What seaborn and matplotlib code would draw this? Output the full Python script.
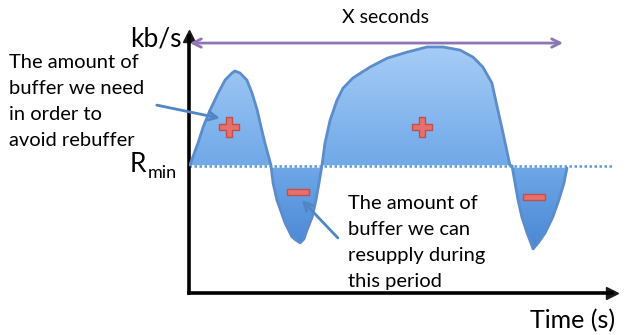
import numpy as np
import matplotlib
matplotlib.use("Agg")
import matplotlib.pyplot as plt
import seaborn as sns
from matplotlib.colors import LinearSegmentedColormap
from matplotlib.patches import Polygon
from matplotlib.path import Path

# ---- data ----
time_s = [0.02, 0.21, 0.33, 0.49, 0.68, 0.84, 1.00, 1.07, 1.19, 1.35, 1.47, 1.59, 1.68, 1.77, 1.91,
          1.96, 2.05, 2.24, 2.40, 2.49, 2.59, 2.68, 2.75, 2.87, 2.96, 3.03, 3.10,
          3.17, 3.29, 3.45, 3.59, 3.82, 4.22, 4.62, 5.08, 5.55, 5.92, 6.32, 6.62, 6.85,
          7.06, 7.20, 7.32, 7.48,
          7.53, 7.60, 7.67, 7.76, 7.88, 7.97, 8.02, 8.14, 8.30, 8.48, 8.62, 8.74, 8.81]
rate_kbps = [49.0, 57.5, 63.6, 70.1, 76.6, 81.6, 84.3, 85.1, 84.3, 81.6, 76.6, 70.1, 63.6, 57.5, 49.0,
             42.1, 35.6, 26.8, 21.5, 20.3, 19.2, 20.7, 24.1, 29.1, 35.6, 42.1, 49.0,
             57.5, 66.3, 73.9, 78.5, 82.4, 86.6, 90.0, 92.3, 94.3, 94.3, 93.1, 90.4, 86.6,
             80.5, 70.1, 61.3, 49.0,
             48.7, 42.1, 35.6, 29.1, 23.0, 19.2, 16.9, 19.2, 23.0, 29.1, 35.6, 42.1, 47.9]
r_min = 48.8
window = [0.02, 8.72]      # "X seconds"
window_level = 95.8
plus_t, plus_r = [0.93, 5.43], [63.6, 63.6]
minus_t, minus_r = [2.54, 8.04], [38.7, 36.8]

sns.set_theme(style="white")
plt.rcParams['font.family'] = ['Lato', 'DejaVu Sans']

W, H = 626, 335
fig = plt.figure(figsize=(W / 100, H / 100), dpi=100)
ax = fig.add_axes([189 / W, 42 / H, 423 / W, 257 / H])
ax.set_xticks([])
ax.set_yticks([])
sns.despine(ax=ax)
for s in ['left', 'bottom']:
    ax.spines[s].set_linewidth(2.6)
    ax.spines[s].set_color('black')
ax.plot(1, 0, '>k', ms=9, transform=ax.transAxes, clip_on=False)
ax.plot(0, 1, '^k', ms=9, transform=ax.transAxes, clip_on=False)

# gradient fill between curve and Rmin
cmap = LinearSegmentedColormap.from_list(
    'g', [(0, '#3f7fcf'), (0.17, '#4a88d4'), (0.49, '#70a8e8'), (0.94, '#a5ccf6'), (1, '#a8cef7')])
grad = np.linspace(0, 1, 256).reshape(-1, 1)
im = ax.imshow(grad, extent=[0, 10, 0, 100], origin='lower', cmap=cmap,
               aspect='auto', zorder=1)
verts = list(zip(time_s, rate_kbps)) + [(time_s[-1], r_min), (time_s[0], r_min)]
patch = Polygon(verts, closed=True, facecolor='none', edgecolor='none')
ax.add_patch(patch)
im.set_clip_path(patch)
ax.set_xlim(0, 9.86)
ax.set_ylim(0, 98.5)

# Rmin dotted line
ax.plot([0, 9.86], [r_min, r_min], color='white', lw=1.8, zorder=2)
ax.plot([0, 9.86], [r_min, r_min], color='#5b9bd5', lw=1.8, ls=(0, (1, 1)), zorder=2.5)

# outline
sns.lineplot(x=time_s, y=rate_kbps, color='#5b8ccb', lw=2, estimator=None, sort=False,
             ax=ax, zorder=3)
ax.set_xlim(0, 9.86)
ax.set_ylim(0, 98.5)

# plus / minus markers
sns.scatterplot(x=plus_t, y=plus_r, marker='P', s=190, color='#e8706c',
                edgecolor='#c0504d', linewidth=1, ax=ax, zorder=4)
minus_marker = Path([(-1, -0.27), (1, -0.27), (1, 0.27), (-1, 0.27), (-1, -0.27)],
                    [1, 2, 2, 2, 79])
ax.plot(minus_t, minus_r, ls='none', marker=minus_marker, ms=16, mfc='#e8706c',
        mec='#c0504d', mew=1, zorder=4)

# X seconds arrow
ax.annotate('', xy=(window[0], window_level), xytext=(window[1], window_level),
            arrowprops=dict(arrowstyle='<->', color='#8e75b5', lw=2, mutation_scale=15,
                            shrinkA=0, shrinkB=0), annotation_clip=False, zorder=5)

# callout arrows
ax.annotate('', xy=(0.72, 67.0), xytext=(-0.75, 72.0),
            arrowprops=dict(arrowstyle='->', color='#4f86c6', lw=2, mutation_scale=15,
                            shrinkA=0, shrinkB=0), annotation_clip=False, zorder=5)
ax.annotate('', xy=(2.63, 35.6), xytext=(3.47, 21.1),
            arrowprops=dict(arrowstyle='->', color='#4f86c6', lw=2, mutation_scale=15,
                            shrinkA=0, shrinkB=0), annotation_clip=False, zorder=5)

def ftext(px, py, s, size, **kw):
    fig.text(px / W, 1 - py / H, s, fontsize=size, va='baseline', color='black', **kw)

ftext(386, 23, 'X seconds', 14, ha='center')
ftext(130, 46, 'kb/s', 19)
ftext(130, 172, 'R', 19)
ftext(148, 178, 'min', 13)
ftext(530, 328, 'Time (s)', 18)
for i, line in enumerate(['The amount of', 'buffer we need', 'in order to', 'avoid rebuffer']):
    ftext(9, 68 + 26 * i, line, 14.5)
for i, line in enumerate(['The amount of', 'buffer we can', 'resupply during', 'this period']):
    ftext(348, 209 + 26 * i, line, 14.5)

fig.savefig('out.png', dpi=100)
